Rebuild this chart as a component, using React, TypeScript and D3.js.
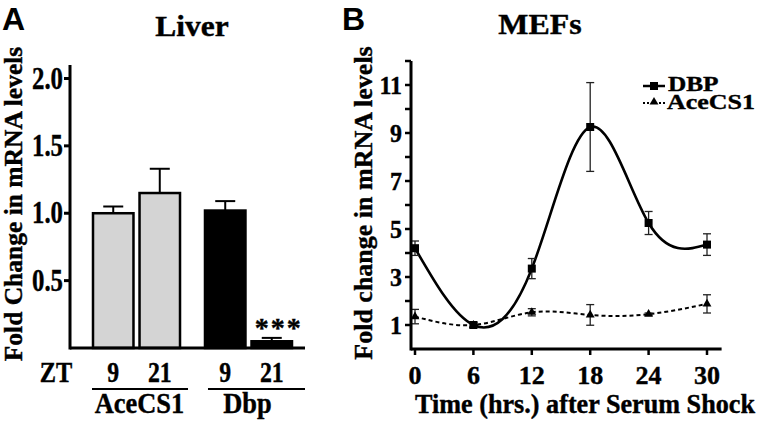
import React from 'react';
import * as d3 from 'd3';

// Panel A: liver qPCR, ZT 9 vs 21
const groups = ['AceCS1', 'Dbp'];
const ztLabels = ['9', '21'];
const liverMean = [[1.0, 1.15], [1.02, 0.05]];
const liverErr = [[0.05, 0.18], [0.07, 0.025]];
const liverFill = ['#d4d4d4', '#000000'];
const liverTicks = [0.5, 1.0, 1.5, 2.0];

// Panel B: MEFs after serum shock
const hours = [0, 6, 12, 18, 24, 30];
const dbpMean = [4.2, 1.0, 3.35, 9.25, 5.25, 4.35];
const dbpErr = [0.3, 0.12, 0.42, 1.85, 0.48, 0.45];
const aceMean = [1.35, 1.0, 1.53, 1.42, 1.45, 1.88];
const aceErr = [0.3, 0.1, 0.15, 0.43, 0.05, 0.38];
const mefTicks = d3.range(1, 13);

const serif = '"Liberation Serif", "Times New Roman", serif';
const sans = '"Liberation Sans", Arial, sans-serif';

const W = 760;
const H = 421;

interface TProps {
    x: number;
    y: number;
    size: number;
    sx?: number;
    anchor?: 'start' | 'middle' | 'end';
    dy?: string;
    spacing?: number;
    children: React.ReactNode;
}

// text with a horizontal squeeze, the figure's type is taller than Times
const T: React.FC<TProps> = ({ x, y, size, sx = 1, anchor = 'start', dy, spacing, children }) => (
    <text transform={`translate(${x},${y}) scale(${sx},1)`} fontSize={size} textAnchor={anchor}
        dy={dy} letterSpacing={spacing} stroke="#000" strokeWidth={0.4}>
        {children}
    </text>
);

const LiverPanel: React.FC = () => {
    const y = d3.scaleLinear().domain([0, 2.1]).range([348, 65]);
    const xg = d3.scaleBand().domain(groups).range([93, 292]).paddingInner(0.223);
    const xi = d3.scaleBand().domain(ztLabels).range([0, xg.bandwidth()]).paddingInner(0.13);
    const axisX = 70;

    return (
        <g fontFamily={serif} fontWeight="bold">
            <text x={2} y={30} fontFamily={sans} fontSize={32} fontWeight="bold">A</text>
            <T x={192} y={36} size={30} sx={1.05} anchor="middle">Liver</T>
            <text transform={`translate(22,204) rotate(-90)`} textAnchor="middle" fontSize={25.5}
                stroke="#000" strokeWidth={0.4}>
                Fold Change in mRNA levels
            </text>

            {groups.map((g, gi) => ztLabels.map((z, zi) => {
                const x0 = (xg(g) ?? 0) + (xi(z) ?? 0);
                const bw = xi.bandwidth();
                const cx = x0 + bw / 2;
                const m = liverMean[gi][zi];
                const e = liverErr[gi][zi];
                return (
                    <g key={g + z}>
                        <line x1={cx} x2={cx} y1={y(m)} y2={y(m + e)} stroke="#000" strokeWidth={2} />
                        <line x1={cx - 10} x2={cx + 10} y1={y(m + e)} y2={y(m + e)} stroke="#000" strokeWidth={2} />
                        <rect x={x0} y={y(m)} width={bw} height={y(0) - y(m)}
                            fill={liverFill[gi]} stroke="#000" strokeWidth={2.5} />
                        <T x={cx} y={382} size={29} sx={0.82} anchor="middle">{z}</T>
                    </g>
                );
            }))}

            <T x={(xg('Dbp') ?? 0) + (xi('21') ?? 0) + xi.bandwidth() / 2 + 7} y={337}
                size={28} anchor="middle" spacing={2}>***</T>

            <line x1={axisX} x2={axisX} y1={y(2.1)} y2={y(0) + 1.5} stroke="#000" strokeWidth={3} />
            <line x1={axisX} x2={305} y1={y(0)} y2={y(0)} stroke="#000" strokeWidth={3} />
            {liverTicks.map(t => (
                <g key={t}>
                    <line x1={axisX - 6} x2={axisX} y1={y(t)} y2={y(t)} stroke="#000" strokeWidth={3} />
                    <T x={axisX - 7} y={y(t)} dy="0.33em" size={31} sx={0.8} anchor="end">{t.toFixed(1)}</T>
                </g>
            ))}

            <T x={56} y={382} size={29} sx={0.84} anchor="middle">ZT</T>
            {groups.map((g, gi) => {
                const x0 = xg(g) ?? 0;
                const x1 = x0 + xg.bandwidth();
                return (
                    <g key={g}>
                        <line x1={x0 - 1 + gi * 4} x2={x1 + 8 + gi * 5} y1={389} y2={389} stroke="#000" strokeWidth={2} />
                        <T x={(x0 + x1) / 2 + 3 - gi * 4} y={413} size={30} sx={0.88} anchor="middle">{g}</T>
                    </g>
                );
            })}
        </g>
    );
};

const MefPanel: React.FC = () => {
    const x = d3.scaleLinear().domain([0, 30]).range([415, 707]);
    const y = d3.scaleLinear().domain([0, 12]).range([349, 61]);
    const axisX = 411;
    const line = d3.line<number>()
        .x((_, i) => x(hours[i]))
        .y(d => y(d))
        .curve(d3.curveNatural);
    const tri = d3.symbol().type(d3.symbolTriangle).size(34)();
    const errBars = (mean: number[], err: number[], key: string) => mean.map((m, i) => (
        <g key={key + i} stroke="#222" strokeWidth={1.3}>
            <line x1={x(hours[i])} x2={x(hours[i])} y1={y(m - err[i])} y2={y(m + err[i])} />
            <line x1={x(hours[i]) - 4} x2={x(hours[i]) + 4} y1={y(m - err[i])} y2={y(m - err[i])} />
            <line x1={x(hours[i]) - 4} x2={x(hours[i]) + 4} y1={y(m + err[i])} y2={y(m + err[i])} />
        </g>
    ));

    return (
        <g fontFamily={serif} fontWeight="bold">
            <text x={342} y={30} fontFamily={sans} fontSize={32} fontWeight="bold">B</text>
            <T x={540} y={34} size={29} sx={1.1} anchor="middle">MEFs</T>
            <text transform={`translate(372,203) rotate(-90)`} textAnchor="middle" fontSize={26}
                stroke="#000" strokeWidth={0.4}>
                Fold change in mRNA levels
            </text>

            <path d={line(aceMean) ?? ''} fill="none" stroke="#000" strokeWidth={2} strokeDasharray="4,3" />
            <path d={line(dbpMean) ?? ''} fill="none" stroke="#000" strokeWidth={2.6} />
            {errBars(aceMean, aceErr, 'a')}
            {errBars(dbpMean, dbpErr, 'd')}
            {aceMean.map((m, i) => (
                <path key={'t' + i} d={tri ?? ''} transform={`translate(${x(hours[i])},${y(m)})`} fill="#000" />
            ))}
            {dbpMean.map((m, i) => (
                <rect key={'s' + i} x={x(hours[i]) - 4} y={y(m) - 4} width={8} height={8} fill="#000" />
            ))}

            <line x1={axisX} x2={axisX} y1={y(12)} y2={y(0) + 1.5} stroke="#000" strokeWidth={3} />
            <line x1={axisX} x2={x(31.5)} y1={y(0)} y2={y(0)} stroke="#000" strokeWidth={3} />
            {mefTicks.map(t => (
                <g key={t}>
                    <line x1={axisX - 6} x2={axisX} y1={y(t)} y2={y(t)} stroke="#000" strokeWidth={2.5} />
                    {t % 2 === 1 && (
                        <T x={axisX - 9} y={y(t)} dy="0.35em" size={26} sx={0.92} anchor="end">{t}</T>
                    )}
                </g>
            ))}
            {hours.map(h => (
                <g key={h}>
                    <line x1={x(h)} x2={x(h)} y1={y(0)} y2={y(0) + 6} stroke="#000" strokeWidth={2.5} />
                    <T x={x(h)} y={384} size={26} anchor="middle">{h}</T>
                </g>
            ))}
            <T x={585} y={413} size={27} sx={0.97} anchor="middle">Time (hrs.) after Serum Shock</T>

            <line x1={643} x2={665} y1={86} y2={86} stroke="#000" strokeWidth={2.5} />
            <rect x={650} y={82} width={8} height={8} fill="#000" />
            <T x={668} y={91} size={22} sx={1.15}>DBP</T>
            <line x1={643} x2={665} y1={103} y2={103} stroke="#000" strokeWidth={2} strokeDasharray="2,2" />
            <path d={tri ?? ''} transform="translate(654,102)" fill="#000" />
            <T x={667} y={109} size={22} sx={1.18}>AceCS1</T>
        </g>
    );
};

const App: React.FC = () => (
    <svg width={W} height={H} style={{ position: 'absolute', left: 0, top: 0, background: '#fff' }}>
        <rect width={W} height={H} fill="#fff" />
        <LiverPanel />
        <MefPanel />
    </svg>
);

export default App;
